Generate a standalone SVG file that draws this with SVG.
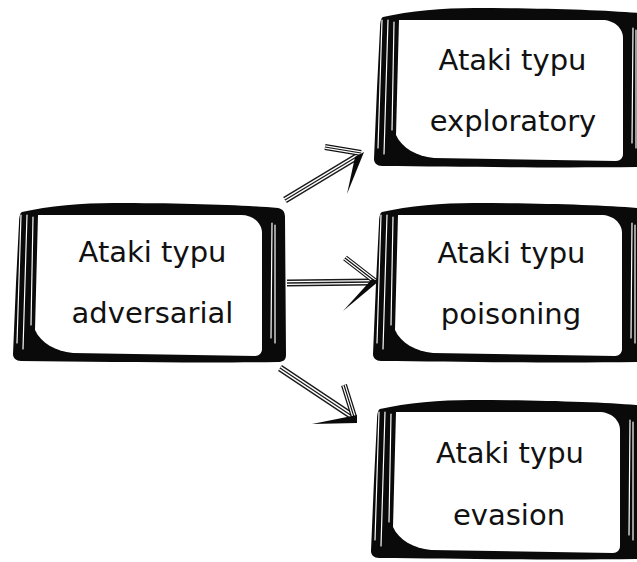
<svg xmlns="http://www.w3.org/2000/svg" xmlns:xlink="http://www.w3.org/1999/xlink" width="637" height="562" viewBox="0 0 637 562">
  <style>
    .ink { fill: #0a0a0a; }
    .paper { fill: #ffffff; }
    .hatch { fill: none; stroke: #ffffff; stroke-width: 1.2; stroke-linecap: round; }
    .label { font-family: "DejaVu Sans", "Liberation Sans", sans-serif; font-size: 29px; fill: #111111; text-anchor: middle; }
    .tri-a { fill: none; stroke: #1a1a1a; stroke-width: 7; }
    .tri-b { fill: none; stroke: #ffffff; stroke-width: 4.2; }
    .tri-c { fill: none; stroke: #1a1a1a; stroke-width: 1.4; }
    .bar-a { fill: none; stroke: #111111; stroke-width: 6; }
    .bar-b { fill: none; stroke: #ffffff; stroke-width: 3.6; }
    .bar-c { fill: none; stroke: #111111; stroke-width: 1.2; }
    .wedge { fill: #0a0a0a; }
  </style>
  <defs>
    <!-- brush-drawn frame, 273 x 160 -->
    <g id="frame">
      <path class="ink" d="M9,9 C35,3 70,0 100,0 C170,0 230,2 265,5 C270,6 272,9 272,14 L273,152 C273,157 270,159 265,159 C190,160 90,159 8,158 C3,158 0,155 0,151 L3,80 L6,20 C6,14 7,10 9,9 Z"/>
      <path class="paper" d="M25,12 L228,12 C240,12 249,20 249,30 L249,146 C249,150 246,153 242,153 L60,150 C42,148 28,140 22,127 L25,12 Z"/>
      <path class="hatch" d="M8,12 L4,140 M14,12 L10,146 M20,14 L18,122 M259,20 L258,135 M262,22 L262,140"/>
    </g>
    <path id="shaft1" d="M285,200 L358,156"/>
    <path id="shaft2" d="M287,283 L372,282"/>
    <path id="shaft3" d="M280,368 L352,416"/>
    <path id="barb1" d="M361,153 L325,147"/>
    <path id="barb2" d="M376,282 L345,258"/>
    <path id="barb3" d="M354,417 L344,385"/>
  </defs>

  <g id="connectors">
    <g id="edge-exploratory">
      <use xlink:href="#shaft1" class="tri-a"/><use xlink:href="#shaft1" class="tri-b"/><use xlink:href="#shaft1" class="tri-c"/>
      <use xlink:href="#barb1" class="bar-a"/><use xlink:href="#barb1" class="bar-b"/><use xlink:href="#barb1" class="bar-c"/>
      <polygon class="wedge" points="364,152 355,157 347,194"/>
    </g>
    <g id="edge-poisoning">
      <use xlink:href="#shaft2" class="tri-a"/><use xlink:href="#shaft2" class="tri-b"/><use xlink:href="#shaft2" class="tri-c"/>
      <use xlink:href="#barb2" class="bar-a"/><use xlink:href="#barb2" class="bar-b"/><use xlink:href="#barb2" class="bar-c"/>
      <polygon class="wedge" points="379,281 372,279 343,311"/>
    </g>
    <g id="edge-evasion">
      <use xlink:href="#shaft3" class="tri-a"/><use xlink:href="#shaft3" class="tri-b"/><use xlink:href="#shaft3" class="tri-c"/>
      <use xlink:href="#barb3" class="bar-a"/><use xlink:href="#barb3" class="bar-b"/><use xlink:href="#barb3" class="bar-c"/>
      <polygon class="wedge" points="357,415 357,423 312,424"/>
    </g>
  </g>

  <g id="node-adversarial">
    <use xlink:href="#frame" transform="translate(13,203)"/>
    <text class="label" x="152.5" y="262">Ataki typu</text>
    <text class="label" x="152.5" y="323">adversarial</text>
  </g>
  <g id="node-exploratory">
    <use xlink:href="#frame" transform="translate(374,8)"/>
    <text class="label" x="512.5" y="70">Ataki typu</text>
    <text class="label" x="513" y="131">exploratory</text>
  </g>
  <g id="node-poisoning">
    <use xlink:href="#frame" transform="translate(373,203)"/>
    <text class="label" x="511.5" y="263">Ataki typu</text>
    <text class="label" x="511" y="324">poisoning</text>
  </g>
  <g id="node-evasion">
    <use xlink:href="#frame" transform="translate(371,400)"/>
    <text class="label" x="510" y="463">Ataki typu</text>
    <text class="label" x="509" y="525">evasion</text>
  </g>
</svg>
